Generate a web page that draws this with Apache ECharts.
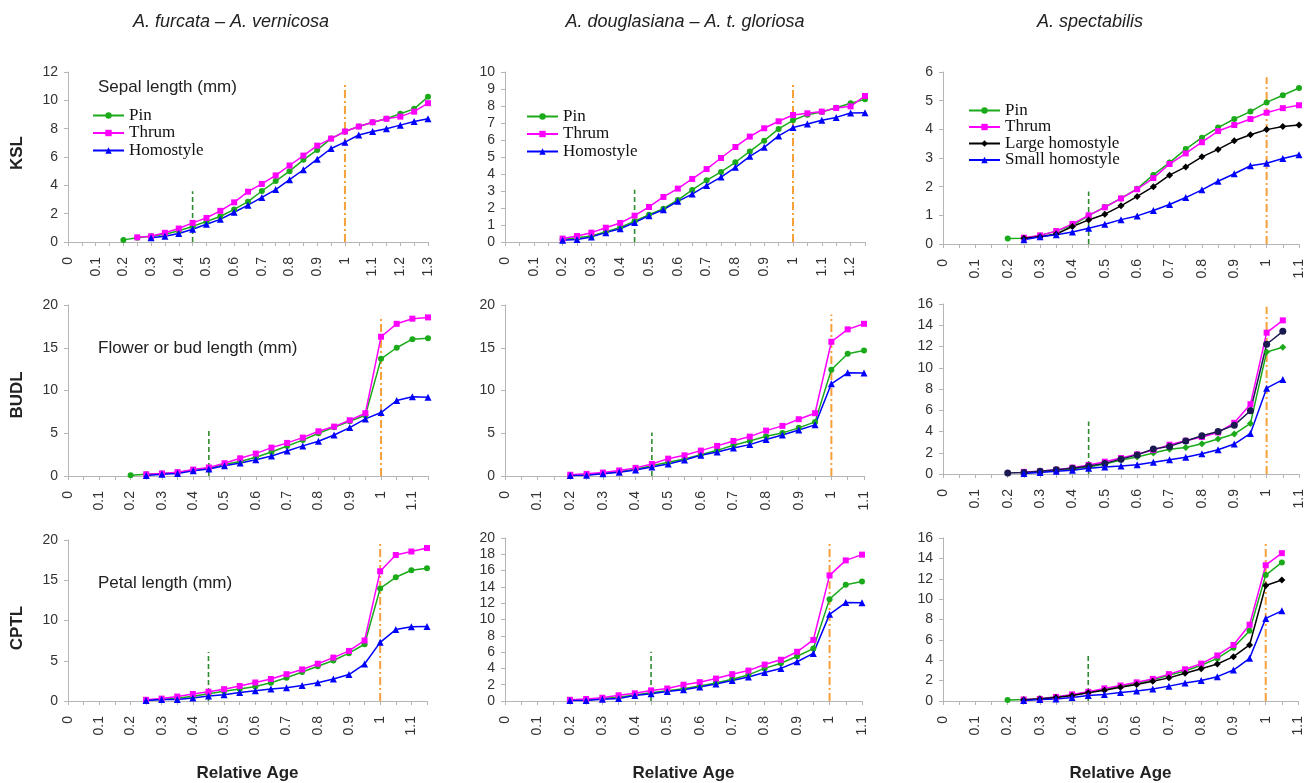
<!DOCTYPE html>
<html>
<head>
<meta charset="utf-8">
<script src="https://cdn.jsdelivr.net/npm/echarts@6/dist/echarts.min.js"></script>
<style>
html,body{margin:0;padding:0;background:#fff;}
#chart{width:1312px;height:783px;}
</style>
</head>
<body>
<div id="chart"></div>
<script>
// Relative age points (x positions shared by all panels)
const AGES = [0.2,0.25,0.3,0.35,0.4,0.45,0.5,0.55,0.6,0.65,0.7,0.75,0.8,0.85,0.9,0.95,1.0,1.05,1.1,1.15,1.2,1.25,1.3];

const columnTitles = ['A. furcata \u2013 A. vernicosa', 'A. douglasiana \u2013 A. t. gloriosa', 'A. spectabilis'];
const rowTitles = ['KSL', 'BUDL', 'CPTL'];
const panelNotes = ['Sepal length (mm)', 'Flower or bud length (mm)', 'Petal length (mm)'];
const xAxisTitle = 'Relative Age';
const namesTwo = ['Pin', 'Thrum', 'Homostyle'];
const namesFour = ['Pin', 'Thrum', 'Large homostyle', 'Small homostyle'];

// axis ranges per panel (row-major)
const xMaxes = [1.3, 1.25, 1.1, 1.15, 1.1, 1.1, 1.15, 1.1, 1.1];
const yMaxes = [12, 10, 6, 20, 20, 16, 20, 20, 16];
const ySteps = [2, 1, 1, 5, 5, 2, 5, 2, 2];

// reference lines (x = 0.45 green dashed, x = 1 orange dash-dot) heights
const greenX = 0.45;
const orangeX = 1.0;
const greenTops = [3.58, 3.08, 1.83, 5.3, 5.1, 4.95, 6.1, 6.05, 4.5];
const orangeTops = [11.15, 9.35, 5.82, 18.75, 18.9, 15.75, 19.7, 19.6, 15.4];

// KSL
const p1Pin = [0.15,0.3,0.4,0.55,0.8,1.1,1.45,1.8,2.3,2.85,3.6,4.3,5.0,5.8,6.5,7.3,7.8,8.15,8.45,8.7,9.05,9.4,10.25];
const p1Thrum = [null,0.33,0.4,0.65,0.95,1.35,1.7,2.2,2.8,3.55,4.1,4.7,5.4,6.1,6.8,7.3,7.8,8.15,8.45,8.7,8.85,9.2,9.8];
const p1Homo = [null,null,0.3,0.4,0.6,0.9,1.25,1.6,2.1,2.6,3.15,3.7,4.4,5.1,5.85,6.6,7.05,7.55,7.8,8.0,8.25,8.5,8.7];

const p2Pin = [0.15,0.25,0.35,0.6,0.85,1.22,1.6,1.96,2.47,3.06,3.63,4.12,4.69,5.33,5.96,6.65,7.16,7.49,7.65,7.9,8.16,8.39];
const p2Thrum = [0.2,0.35,0.55,0.84,1.12,1.55,2.06,2.65,3.14,3.71,4.29,4.94,5.59,6.2,6.69,7.1,7.47,7.57,7.67,7.88,7.98,8.59];
const p2Homo = [0.1,0.15,0.3,0.55,0.78,1.14,1.55,1.9,2.39,2.82,3.33,3.82,4.39,5.04,5.57,6.24,6.73,6.94,7.16,7.33,7.59,7.6];

const p3Pin = [0.19,0.2,0.3,0.45,0.65,0.99,1.29,1.59,1.93,2.41,2.84,3.31,3.71,4.06,4.36,4.62,4.94,5.19,5.44];
const p3Thrum = [null,0.22,0.3,0.45,0.7,1.0,1.28,1.59,1.91,2.3,2.79,3.16,3.55,3.94,4.15,4.36,4.58,4.74,4.84];
const p3Large = [null,0.2,0.25,0.35,0.61,0.84,1.04,1.33,1.66,2.0,2.4,2.69,3.04,3.3,3.6,3.81,3.99,4.1,4.15];
const p3Small = [null,0.15,0.25,0.32,0.42,0.55,0.69,0.85,0.98,1.17,1.38,1.62,1.89,2.19,2.45,2.73,2.82,2.98,3.11];

// BUDL
const p4Pin = [0.1,0.2,0.3,0.4,0.7,0.9,1.35,1.7,2.2,2.8,3.5,4.2,5.0,5.7,6.4,7.1,13.7,15.0,16.0,16.1];
const p4Thrum = [null,0.2,0.3,0.45,0.75,1.0,1.5,2.07,2.62,3.32,3.87,4.49,5.23,5.78,6.52,7.34,16.29,17.8,18.4,18.55];
const p4Homo = [null,0.05,0.2,0.3,0.6,0.82,1.21,1.52,1.91,2.34,2.93,3.52,4.06,4.8,5.66,6.68,7.42,8.83,9.26,9.22];

const p5Pin = [0.1,0.15,0.3,0.5,0.8,1.2,1.6,2.0,2.5,3.0,3.6,4.1,4.65,5.04,5.63,6.33,12.42,14.3,14.69];
const p5Thrum = [0.15,0.25,0.4,0.65,0.95,1.4,2.03,2.42,2.97,3.52,4.1,4.61,5.31,5.86,6.64,7.34,15.7,17.15,17.8];
const p5Homo = [0.05,0.1,0.25,0.45,0.7,1.05,1.4,1.87,2.42,2.81,3.28,3.67,4.26,4.8,5.39,5.98,10.78,12.07,12.05];

const p6Pin = [null,0.15,0.2,0.35,0.5,0.65,0.94,1.31,1.6,1.97,2.32,2.5,2.85,3.29,3.76,4.76,11.49,11.93];
const p6Thrum = [null,0.2,0.25,0.4,0.6,0.85,1.16,1.5,1.85,2.25,2.76,3.13,3.48,3.91,4.82,6.57,13.3,14.46];
const p6Large = [0.1,0.15,0.25,0.4,0.55,0.75,1.0,1.4,1.8,2.35,2.6,3.1,3.6,4.0,4.6,5.95,12.21,13.43];
const p6Small = [null,0.05,0.15,0.25,0.35,0.53,0.66,0.75,0.88,1.1,1.35,1.57,1.91,2.29,2.82,3.82,8.08,8.89];

// CPTL
const p7Pin = [null,0.1,0.2,0.35,0.6,0.9,1.2,1.5,1.8,2.26,2.89,3.6,4.32,5.03,5.94,7.05,13.98,15.37,16.24,16.5];
const p7Thrum = [null,0.15,0.3,0.55,0.87,1.15,1.47,1.86,2.3,2.73,3.33,3.92,4.63,5.39,6.22,7.52,16.12,18.14,18.57,19.0];
const p7Homo = [null,0.05,0.2,0.2,0.36,0.63,0.79,1.07,1.27,1.5,1.66,1.94,2.26,2.73,3.29,4.59,7.29,8.87,9.23,9.25];

const p8Pin = [0.1,0.15,0.3,0.45,0.75,1.0,1.25,1.5,1.85,2.2,2.67,3.2,4.0,4.63,5.49,6.43,12.5,14.27,14.67];
const p8Thrum = [0.15,0.25,0.4,0.7,0.95,1.3,1.53,2.0,2.31,2.75,3.29,3.73,4.47,5.06,6.04,7.49,15.41,17.25,17.96];
const p8Homo = [0.05,0.05,0.2,0.3,0.67,0.9,1.18,1.37,1.73,2.08,2.51,2.94,3.49,4.0,4.82,5.84,10.63,12.08,12.05];

const p9Pin = [0.1,0.15,0.25,0.4,0.6,0.85,1.15,1.45,1.75,2.08,2.52,2.95,3.51,4.19,5.22,6.9,12.36,13.6];
const p9Thrum = [null,0.15,0.2,0.4,0.65,0.9,1.24,1.52,1.83,2.17,2.64,3.11,3.67,4.47,5.5,7.49,13.33,14.51];
const p9Large = [null,0.1,0.2,0.35,0.55,0.8,1.06,1.34,1.62,1.93,2.27,2.73,3.17,3.63,4.35,5.5,11.34,11.87];
const p9Small = [null,0.05,0.15,0.2,0.35,0.53,0.65,0.84,0.99,1.18,1.46,1.77,2.02,2.39,3.04,4.19,8.11,8.85];

const panelData = [
  [p1Pin, p1Thrum, p1Homo],
  [p2Pin, p2Thrum, p2Homo],
  [p3Pin, p3Thrum, p3Large, p3Small],
  [p4Pin, p4Thrum, p4Homo],
  [p5Pin, p5Thrum, p5Homo],
  [p6Pin, p6Thrum, p6Large, p6Small],
  [p7Pin, p7Thrum, p7Homo],
  [p8Pin, p8Thrum, p8Homo],
  [p9Pin, p9Thrum, p9Large, p9Small]
];

// ---- layout & style ----
const grids = [
  {left: 68, top: 72, width: 360, height: 170},
  {left: 505, top: 72, width: 360, height: 170},
  {left: 943, top: 72, width: 356, height: 172},
  {left: 68, top: 305, width: 360, height: 171},
  {left: 505, top: 305, width: 359, height: 171},
  {left: 943, top: 304, width: 356, height: 170},
  {left: 68, top: 540, width: 359, height: 168},
  {left: 505, top: 538, width: 357, height: 170},
  {left: 943, top: 538, width: 355, height: 172}
];
const COLORS = {Pin: '#1aaa1a', Thrum: '#ff00ff', Homostyle: '#0000ff', 'Large homostyle': '#000000', 'Small homostyle': '#0000ff'};
const SYMBOLS = {Pin: ['circle', 6], Thrum: ['rect', 6], Homostyle: ['triangle', 7], 'Large homostyle': ['diamond', 7], 'Small homostyle': ['triangle', 7]};
const SANS = '"Liberation Sans", Arial, sans-serif';
const SERIF = '"Liberation Serif", "Times New Roman", serif';

function toPairs(vals) {
  const out = [];
  vals.forEach((v, i) => { if (v !== null) out.push([AGES[i], v]); });
  return out;
}

const xAxes = [], yAxes = [], series = [];
grids.forEach((g, i) => {
  xAxes.push({
    gridIndex: i, type: 'value', min: 0, max: xMaxes[i], interval: 0.05,
    axisLine: {show: true, lineStyle: {color: '#b5b5b5', width: 1}},
    axisTick: {show: true, length: 4, lineStyle: {color: '#b5b5b5'}},
    splitLine: {show: false},
    axisLabel: {
      rotate: 90, margin: 15, color: '#333', fontFamily: SANS, fontSize: 14,
      formatter: v => (Math.round(v * 100) % 10 === 0) ? String(Math.round(v * 10) / 10) : ''
    },
    name: i >= 6 ? xAxisTitle : '', nameLocation: 'middle', nameGap: 64,
    nameTextStyle: {fontFamily: SANS, fontSize: 17, fontWeight: 'bold', color: '#222'}
  });
  yAxes.push({
    gridIndex: i, type: 'value', min: 0, max: yMaxes[i], interval: ySteps[i],
    axisLine: {show: true, lineStyle: {color: '#b5b5b5', width: 1}},
    axisTick: {show: true, length: 4, lineStyle: {color: '#b5b5b5'}},
    splitLine: {show: false},
    axisLabel: {margin: 10, color: '#333', fontFamily: SANS, fontSize: 14}
  });
  // reference lines
  series.push({
    type: 'line', xAxisIndex: i, yAxisIndex: i, silent: true, symbol: 'none', animation: false,
    data: [[greenX, 0], [greenX, greenTops[i]]],
    lineStyle: {color: '#2e8b2e', width: 1.6, type: [5, 3]}, z: 1
  });
  series.push({
    type: 'line', xAxisIndex: i, yAxisIndex: i, silent: true, symbol: 'none', animation: false,
    data: [[orangeX, 0], [orangeX, orangeTops[i]]],
    lineStyle: {color: '#f5a03a', width: 2, type: [8, 3, 2, 3]}, z: 1
  });
  const names = panelData[i].length === 4 ? namesFour : namesTwo;
  panelData[i].forEach((vals, k) => {
    const nm = names[k];
    let sym = SYMBOLS[nm];
    let col = COLORS[nm];
    if (i === 5 && nm === 'Pin') sym = ['diamond', 7];
    if (i === 5 && nm === 'Large homostyle') { sym = ['circle', 7]; col = '#1a1a50'; }
    series.push({
      type: 'line', name: nm, xAxisIndex: i, yAxisIndex: i, animation: false,
      data: toPairs(vals), symbol: sym[0], symbolSize: sym[1], showSymbol: true,
      lineStyle: {color: col, width: 1.5}, itemStyle: {color: col}, z: 3
    });
  });
});

const legendBase = {
  orient: 'vertical', itemWidth: 31, itemHeight: 8, padding: 0,
  textStyle: {fontFamily: SERIF, fontSize: 17, color: '#111'}, selectedMode: false
};
const legends = [
  Object.assign({}, legendBase, {left: 92, top: 107, itemGap: 0.5, data: namesTwo}),
  Object.assign({}, legendBase, {left: 526, top: 108, itemGap: 0.5, data: namesTwo}),
  Object.assign({}, legendBase, {left: 968, top: 102, itemGap: -0.5, data: namesFour})
];

const graphics = [];
const headerX = [231, 685, 1090];
columnTitles.forEach((t, c) => graphics.push({
  type: 'text', x: headerX[c], y: 22,
  style: {text: t, fill: '#222', font: 'italic 18px ' + SANS, align: 'center', verticalAlign: 'middle'}
}));
const rowY = [153, 395, 628];
rowTitles.forEach((t, r) => graphics.push({
  type: 'text', x: 17, y: rowY[r], rotation: Math.PI / 2,
  style: {text: t, fill: '#222', font: 'bold 17px ' + SANS, align: 'center', verticalAlign: 'middle'}
}));
const noteY = [87, 348, 583];
panelNotes.forEach((t, r) => graphics.push({
  type: 'text', x: 98, y: noteY[r],
  style: {text: t, fill: '#222', font: '17px ' + SANS, align: 'left', verticalAlign: 'middle'}
}));

const chart = echarts.init(document.getElementById('chart'), null, {renderer: 'canvas'});
chart.setOption({
  animation: false,
  backgroundColor: '#fff',
  grid: grids,
  xAxis: xAxes,
  yAxis: yAxes,
  series: series,
  legend: legends,
  graphic: graphics
});
</script>
</body>
</html>
